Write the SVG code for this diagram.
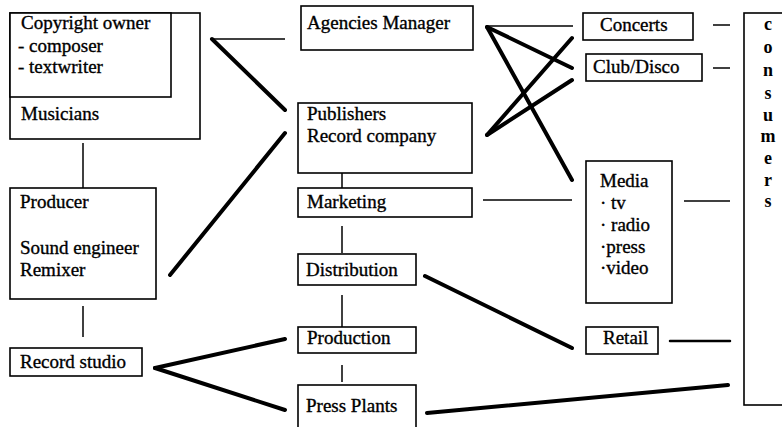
<svg xmlns="http://www.w3.org/2000/svg" width="782" height="427" viewBox="0 0 782 427">
<style>
  .box { fill: #fff; stroke: #000; stroke-width: 1.6; }
  .t { font-family: "Liberation Serif", "Times New Roman", serif; font-size: 19px; fill: #000; stroke: #000; stroke-width: 0.35; }
  .c { font-family: "Liberation Serif", "Times New Roman", serif; font-size: 18px; font-weight: bold; fill: #000; text-anchor: middle; }
  .thin { stroke: #000; stroke-width: 1.5; fill: none; }
  .thick { stroke: #000; stroke-width: 4; stroke-linecap: round; fill: none; }
  .mid { stroke: #000; stroke-width: 2.5; stroke-linecap: round; fill: none; }
</style>
<rect width="782" height="427" fill="#fff"/>

<g id="connectors">
  <line class="thin" x1="212" y1="39" x2="285" y2="39"/>
  <line class="thick" x1="212" y1="39" x2="285" y2="110"/>
  <line class="thin" x1="83" y1="143" x2="83" y2="188"/>
  <line class="thick" x1="170" y1="275" x2="285" y2="133"/>
  <line class="thin" x1="83" y1="306" x2="83" y2="337"/>
  <line class="thick" x1="155" y1="368" x2="285" y2="339"/>
  <line class="thick" x1="155" y1="368" x2="285" y2="410"/>
  <line class="thin" x1="342" y1="173" x2="342" y2="188"/>
  <line class="thin" x1="342" y1="226" x2="342" y2="253"/>
  <line class="thin" x1="342" y1="295" x2="342" y2="327"/>
  <line class="thin" x1="342" y1="365" x2="342" y2="382"/>
  <line class="thin" x1="487" y1="26" x2="573" y2="26"/>
  <line class="thick" x1="487" y1="27" x2="572" y2="68"/>
  <line class="thick" x1="487" y1="27" x2="572" y2="180"/>
  <line class="thick" x1="487" y1="135" x2="572" y2="38"/>
  <line class="thick" x1="487" y1="135" x2="572" y2="80"/>
  <line class="thin" x1="483" y1="200" x2="572" y2="200"/>
  <line class="thick" x1="425" y1="276" x2="572" y2="348"/>
  <line class="thick" x1="427" y1="413" x2="728" y2="385"/>
  <line class="thin" x1="713" y1="25" x2="730" y2="25"/>
  <line class="thin" x1="713" y1="68" x2="730" y2="68"/>
  <line class="thin" x1="684" y1="201" x2="730" y2="201"/>
  <line class="mid" x1="670" y1="341" x2="730" y2="341"/>
</g>

<g id="copyright-musicians">
  <rect class="box" x="10" y="13" width="190" height="126"/>
  <rect class="box" x="10" y="13" width="161" height="84"/>
  <text class="t" x="21" y="29">Copyright owner</text>
  <text class="t" x="18" y="52">-  composer</text>
  <text class="t" x="18" y="73">-  textwriter</text>
  <text class="t" x="21" y="120">Musicians</text>
</g>

<g id="producer">
  <rect class="box" x="10" y="188" width="146" height="111"/>
  <text class="t" x="20" y="208">Producer</text>
  <text class="t" x="20" y="254">Sound engineer</text>
  <text class="t" x="20" y="276">Remixer</text>
</g>

<g id="record-studio">
  <rect class="box" x="10" y="348" width="132" height="28"/>
  <text class="t" x="20" y="368">Record studio</text>
</g>

<g id="agencies">
  <rect class="box" x="301" y="6" width="172" height="44"/>
  <text class="t" x="307" y="29">Agencies Manager</text>
</g>

<g id="publishers">
  <rect class="box" x="298" y="103" width="174" height="70"/>
  <text class="t" x="307" y="120">Publishers</text>
  <text class="t" x="307" y="142">Record company</text>
</g>

<g id="marketing">
  <rect class="box" x="298" y="188" width="174" height="29"/>
  <text class="t" x="307" y="208">Marketing</text>
</g>

<g id="distribution">
  <rect class="box" x="298" y="254" width="118" height="31"/>
  <text class="t" x="306" y="276">Distribution</text>
</g>

<g id="production">
  <rect class="box" x="298" y="327" width="118" height="26"/>
  <text class="t" x="307" y="344">Production</text>
</g>

<g id="press-plants">
  <rect class="box" x="298" y="385" width="118" height="50"/>
  <text class="t" x="306" y="412">Press Plants</text>
</g>

<g id="concerts">
  <rect class="box" x="583" y="13" width="110" height="27"/>
  <text class="t" x="600" y="31">Concerts</text>
</g>

<g id="club-disco">
  <rect class="box" x="586" y="54" width="116" height="27"/>
  <text class="t" x="593" y="73">Club/Disco</text>
</g>

<g id="media">
  <rect class="box" x="586" y="161" width="86" height="142"/>
  <text class="t" x="600" y="187">Media</text>
  <text class="t" x="600" y="209">· tv</text>
  <text class="t" x="600" y="231">· radio</text>
  <text class="t" x="600" y="253">·press</text>
  <text class="t" x="600" y="274">·video</text>
</g>

<g id="retail">
  <rect class="box" x="586" y="327" width="72" height="27"/>
  <text class="t" x="603" y="344">Retail</text>
</g>

<g id="consumers">
  <rect class="box" x="744" y="13" width="50" height="392"/>
  <text class="c" x="768" y="30">c</text>
  <text class="c" x="768" y="53">o</text>
  <text class="c" x="768" y="76">n</text>
  <text class="c" x="768" y="99">s</text>
  <text class="c" x="768" y="121">u</text>
  <text class="c" x="768" y="142">m</text>
  <text class="c" x="768" y="164">e</text>
  <text class="c" x="768" y="186">r</text>
  <text class="c" x="768" y="207">s</text>
</g>
</svg>
